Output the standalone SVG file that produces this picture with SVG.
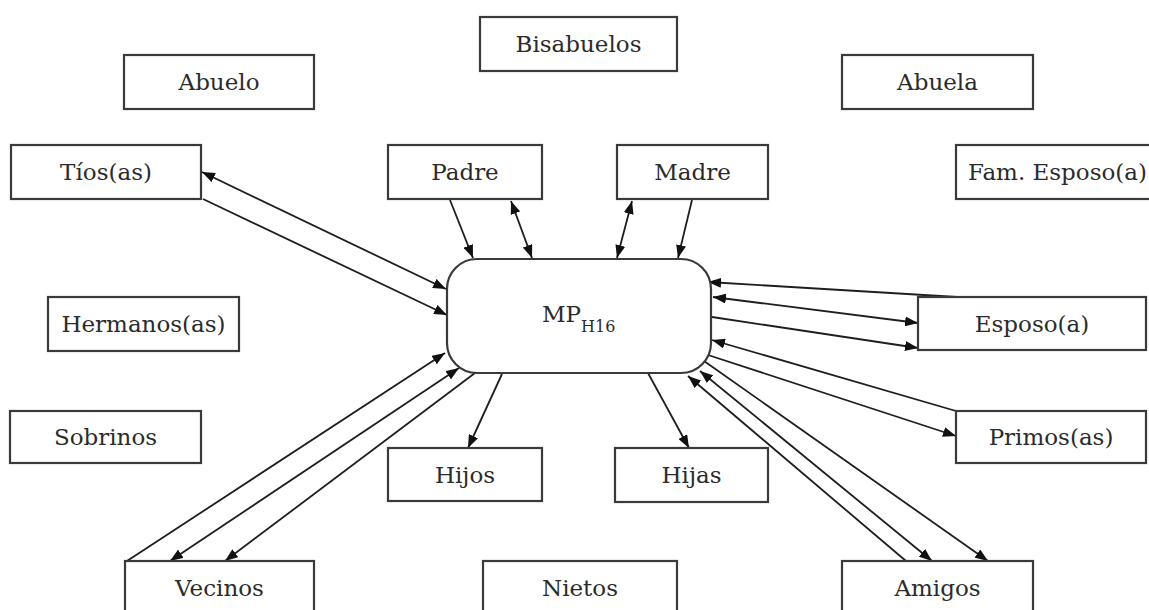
<svg xmlns="http://www.w3.org/2000/svg" width="1149" height="610" viewBox="0 0 1149 610">
  <style>
    .box { fill: #ffffff; stroke: #3a3a3a; stroke-width: 2.2; }
    .lbl { font-family: "DejaVu Serif", "Liberation Serif", serif; font-size: 23px; fill: #2b2b2b; text-anchor: middle; }
    .sub { font-size: 16px; }
    .edge { stroke: #1e1e1e; stroke-width: 1.8; fill: none; }
    .one { marker-end: url(#ah); }
    .two { marker-start: url(#ah); marker-end: url(#ah); }
  </style>
  <defs>
    <marker id="ah" viewBox="0 0 12 10" refX="12" refY="5" markerWidth="13" markerHeight="10" markerUnits="userSpaceOnUse" orient="auto-start-reverse" preserveAspectRatio="none">
      <path d="M0,0 L12,5 L0,10 z" fill="#111111"/>
    </marker>
  </defs>
  <rect width="1149" height="610" fill="#ffffff"/>

  <!-- connectors -->
  <g id="connectors">
    <line class="edge two" x1="202" y1="172" x2="446" y2="289"/>
    <line class="edge one" x1="203" y1="199" x2="447" y2="315"/>
    <line class="edge one" x1="450" y1="200" x2="473" y2="258"/>
    <line class="edge two" x1="511" y1="201" x2="532" y2="258"/>
    <line class="edge two" x1="632" y1="201" x2="617" y2="258"/>
    <line class="edge one" x1="692" y1="200" x2="678" y2="258"/>
    <line class="edge one" x1="957" y1="297" x2="708" y2="282"/>
    <line class="edge two" x1="713" y1="297" x2="918" y2="323"/>
    <line class="edge one" x1="712" y1="317" x2="918" y2="348"/>
    <line class="edge one" x1="956" y1="411" x2="712" y2="340"/>
    <line class="edge one" x1="708" y1="355" x2="956" y2="436"/>
    <line class="edge one" x1="906" y1="561" x2="688" y2="376"/>
    <line class="edge two" x1="700" y1="371" x2="932" y2="561"/>
    <line class="edge one" x1="704" y1="361" x2="988" y2="561"/>
    <line class="edge one" x1="648" y1="373" x2="689" y2="448"/>
    <line class="edge one" x1="502" y1="374" x2="468" y2="448"/>
    <line class="edge one" x1="127" y1="561" x2="445" y2="353"/>
    <line class="edge two" x1="170" y1="561" x2="459" y2="368"/>
    <line class="edge one" x1="475" y1="373" x2="225" y2="561"/>
  </g>

  <!-- central node -->
  <g id="mp">
    <rect class="box" x="447" y="259" width="264" height="114" rx="30" ry="30"/>
    <text class="lbl" x="542" y="322" style="text-anchor:start">MP<tspan class="sub" dy="10">H16</tspan></text>
  </g>

  <!-- surrounding nodes -->
  <g id="bisabuelos">
    <rect class="box" x="480" y="17" width="197" height="54"/>
    <text class="lbl" x="578.5" y="52">Bisabuelos</text>
  </g>
  <g id="abuelo">
    <rect class="box" x="124" y="55" width="190" height="54"/>
    <text class="lbl" x="219" y="90">Abuelo</text>
  </g>
  <g id="abuela">
    <rect class="box" x="842" y="55" width="191" height="54"/>
    <text class="lbl" x="937.5" y="90">Abuela</text>
  </g>
  <g id="tios">
    <rect class="box" x="11" y="145" width="190" height="54"/>
    <text class="lbl" x="106" y="180">Tíos(as)</text>
  </g>
  <g id="padre">
    <rect class="box" x="388" y="145" width="154" height="54"/>
    <text class="lbl" x="465" y="180">Padre</text>
  </g>
  <g id="madre">
    <rect class="box" x="617" y="145" width="151" height="54"/>
    <text class="lbl" x="692.5" y="180">Madre</text>
  </g>
  <g id="fam-esposo">
    <rect class="box" x="956" y="145" width="204" height="54"/>
    <text class="lbl" x="1057.5" y="180">Fam. Esposo(a)</text>
  </g>
  <g id="hermanos">
    <rect class="box" x="48" y="297" width="191" height="54"/>
    <text class="lbl" x="143.5" y="332">Hermanos(as)</text>
  </g>
  <g id="esposo">
    <rect class="box" x="918" y="297" width="228" height="53"/>
    <text class="lbl" x="1032" y="332">Esposo(a)</text>
  </g>
  <g id="sobrinos">
    <rect class="box" x="10" y="411" width="191" height="52"/>
    <text class="lbl" x="105.5" y="445">Sobrinos</text>
  </g>
  <g id="primos">
    <rect class="box" x="956" y="411" width="190" height="52"/>
    <text class="lbl" x="1051" y="445">Primos(as)</text>
  </g>
  <g id="hijos">
    <rect class="box" x="388" y="448" width="154" height="53"/>
    <text class="lbl" x="465" y="483">Hijos</text>
  </g>
  <g id="hijas">
    <rect class="box" x="615" y="448" width="153" height="54"/>
    <text class="lbl" x="691.5" y="483">Hijas</text>
  </g>
  <g id="vecinos">
    <rect class="box" x="125" y="561" width="189" height="56"/>
    <text class="lbl" x="219.5" y="596">Vecinos</text>
  </g>
  <g id="nietos">
    <rect class="box" x="483" y="561" width="194" height="56"/>
    <text class="lbl" x="580" y="596">Nietos</text>
  </g>
  <g id="amigos">
    <rect class="box" x="842" y="561" width="191" height="56"/>
    <text class="lbl" x="937.5" y="596">Amigos</text>
  </g>
</svg>
